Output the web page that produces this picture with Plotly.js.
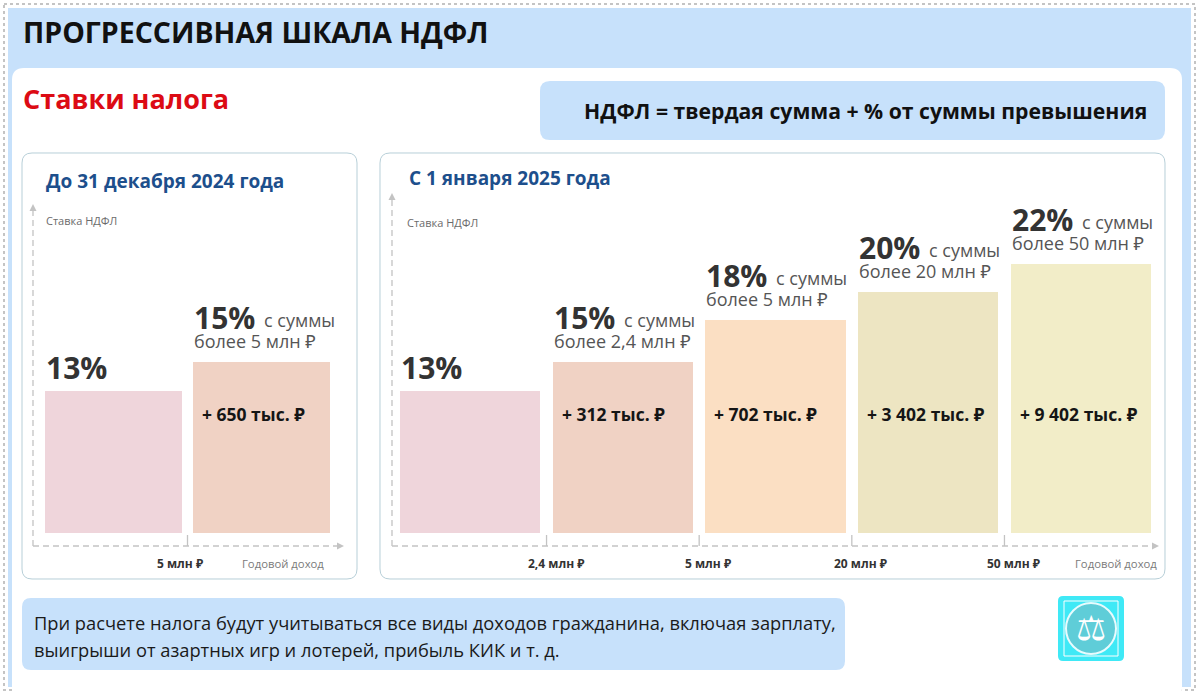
<!DOCTYPE html>
<html>
<head>
<meta charset="utf-8">
<script src="https://cdn.plot.ly/plotly-3.0.1.min.js"></script>
<style>
html,body{margin:0;padding:0;background:#fff;}
#chart{width:1199px;height:694px;}
</style>
</head>
<body>
<div id="chart"></div>
<script>
// ---------- DATA ----------
const pageTitle = 'ПРОГРЕССИВНАЯ ШКАЛА НДФЛ';
const sectionTitle = 'Ставки налога';
const formulaText = 'НДФЛ = твердая сумма + % от суммы превышения';
const leftTitle = 'До 31 декабря 2024 года';
const rightTitle = 'С 1 января 2025 года';
const yAxisLabel = 'Ставка НДФЛ';
const xAxisLabel = 'Годовой доход';

const leftRates = [13, 15];
const leftFixedSum = [null, '650 тыс. ₽'];
const leftOverText = [null, 'более 5 млн ₽'];
const leftThresholds = ['5 млн ₽'];

const rightRates = [13, 15, 18, 20, 22];
const rightFixedSum = [null, '312 тыс. ₽', '702 тыс. ₽', '3 402 тыс. ₽', '9 402 тыс. ₽'];
const rightOverText = [null, 'более 2,4 млн ₽', 'более 5 млн ₽', 'более 20 млн ₽', 'более 50 млн ₽'];
const rightThresholds = ['2,4 млн ₽', '5 млн ₽', '20 млн ₽', '50 млн ₽'];

const footerLines = [
  'При расчете налога будут учитываться все виды доходов гражданина, включая зарплату,',
  'выигрыши от азартных игр и лотерей, прибыль КИК и т. д.'
];

// ---------- STYLE ----------
const W = 1199, H = 694;
const FONT = '"Open Sans", "Noto Sans", "DejaVu Sans", sans-serif';
const leftColors = ['#efd5db', '#f0d2c4'];
const rightColors = ['#efd5db', '#f0d2c4', '#fbdfc3', '#ede5c2', '#f2edc8'];
const BLUE_BG = '#c7e1fb';
const BAR_W = 0.92;
const HALF = BAR_W / 2;
const Y_RANGE = [2.9, 26.16];
const INNER_Y = 11.35;

const X = v => v / W;
const Y = v => 1 - v / H;

function rr(x0, y0, x1, y1, r) {
  const f = v => v.toFixed(5);
  const a = X, b = Y;
  return `M${f(a(x0 + r))},${f(b(y0))} L${f(a(x1 - r))},${f(b(y0))} Q${f(a(x1))},${f(b(y0))} ${f(a(x1))},${f(b(y0 + r))} ` +
    `L${f(a(x1))},${f(b(y1 - r))} Q${f(a(x1))},${f(b(y1))} ${f(a(x1 - r))},${f(b(y1))} ` +
    `L${f(a(x0 + r))},${f(b(y1))} Q${f(a(x0))},${f(b(y1))} ${f(a(x0))},${f(b(y1 - r))} ` +
    `L${f(a(x0))},${f(b(y0 + r))} Q${f(a(x0))},${f(b(y0))} ${f(a(x0 + r))},${f(b(y0))} Z`;
}
function tri(pts) {
  return 'M' + pts.map(p => X(p[0]).toFixed(5) + ',' + Y(p[1]).toFixed(5)).join(' L') + ' Z';
}

const shapes = [];
// outer stamp border
shapes.push({type: 'rect', xref: 'paper', yref: 'paper', x0: X(4), x1: X(1195), y0: Y(4), y1: Y(690),
  line: {color: '#c4c4c4', width: 2, dash: 'dot'}, fillcolor: 'rgba(0,0,0,0)', layer: 'below'});
// blue background
shapes.push({type: 'rect', xref: 'paper', yref: 'paper', x0: X(8), x1: X(1191), y0: Y(8), y1: Y(687),
  line: {width: 0}, fillcolor: BLUE_BG, layer: 'below'});
// white panel
shapes.push({type: 'path', xref: 'paper', yref: 'paper', path: rr(12, 68, 1182, 700, 12),
  line: {width: 0}, fillcolor: '#ffffff', layer: 'below'});
shapes.push({type: 'rect', xref: 'paper', yref: 'paper', x0: X(12), x1: X(1182), y0: Y(684), y1: Y(687),
  line: {width: 0}, fillcolor: '#ffffff', layer: 'below'});
// formula box
shapes.push({type: 'path', xref: 'paper', yref: 'paper', path: rr(540, 81, 1165, 140, 10),
  line: {width: 0}, fillcolor: BLUE_BG, layer: 'below'});
// panels
shapes.push({type: 'path', xref: 'paper', yref: 'paper', path: rr(22, 153, 357, 579, 10),
  line: {width: 1, color: '#b7cfd8'}, fillcolor: '#ffffff', layer: 'below'});
shapes.push({type: 'path', xref: 'paper', yref: 'paper', path: rr(380, 153, 1165, 579, 10),
  line: {width: 1, color: '#b7cfd8'}, fillcolor: '#ffffff', layer: 'below'});
// footer box
shapes.push({type: 'path', xref: 'paper', yref: 'paper', path: rr(22, 598, 845, 670, 9),
  line: {width: 0}, fillcolor: BLUE_BG, layer: 'below'});
// icon
shapes.push({type: 'path', xref: 'paper', yref: 'paper', path: rr(1058, 596, 1124, 661, 5),
  line: {width: 0}, fillcolor: '#3fe9f6', layer: 'below'});
shapes.push({type: 'rect', xref: 'paper', yref: 'paper', x0: X(1064), x1: X(1118), y0: Y(601), y1: Y(656),
  line: {width: 1, color: '#ffffff'}, fillcolor: 'rgba(0,0,0,0)', layer: 'below'});
shapes.push({type: 'circle', xref: 'paper', yref: 'paper', x0: X(1066), x1: X(1116), y0: Y(603), y1: Y(654),
  line: {width: 2, color: '#e8fbfd'}, fillcolor: '#5fcdd8', layer: 'below'});

// dashed axes
const AX = '#c3c3c3';
function addAxes(xv, yTop, xRight) {
  shapes.push({type: 'line', xref: 'paper', yref: 'paper', x0: X(xv), x1: X(xv), y0: Y(546), y1: Y(yTop + 6),
    line: {color: AX, width: 1.3, dash: '6px,4px'}, layer: 'below'});
  shapes.push({type: 'line', xref: 'paper', yref: 'paper', x0: X(xv), x1: X(xRight - 6), y0: Y(546), y1: Y(546),
    line: {color: AX, width: 1.3, dash: '6px,4px'}, layer: 'below'});
  shapes.push({type: 'path', xref: 'paper', yref: 'paper', path: tri([[xv - 3.5, yTop + 7], [xv + 3.5, yTop + 7], [xv, yTop]]),
    line: {width: 0}, fillcolor: AX, layer: 'below'});
  shapes.push({type: 'path', xref: 'paper', yref: 'paper', path: tri([[xRight - 7, 542.5], [xRight - 7, 549.5], [xRight, 546]]),
    line: {width: 0}, fillcolor: AX, layer: 'below'});
}
addAxes(33, 204, 344);
addAxes(392, 193, 1159);

// threshold ticks (between bars, data coordinates on x)
leftThresholds.forEach((t, i) => {
  shapes.push({type: 'line', xref: 'x', yref: 'paper', x0: i + 0.5, x1: i + 0.5, y0: Y(535), y1: Y(546),
    line: {color: AX, width: 1.3}, layer: 'below'});
});
rightThresholds.forEach((t, i) => {
  shapes.push({type: 'line', xref: 'x2', yref: 'paper', x0: i + 0.5, x1: i + 0.5, y0: Y(535), y1: Y(546),
    line: {color: AX, width: 1.3}, layer: 'below'});
});

// ---------- ANNOTATIONS ----------
const ann = [];
function txt(o) { ann.push(Object.assign({showarrow: false, xref: 'paper', yref: 'paper'}, o)); }

txt({x: X(21), y: Y(32), xanchor: 'left', yanchor: 'middle', text: '<b>' + pageTitle + '</b>',
  font: {family: FONT, size: 28.5, color: '#111111'}});
txt({x: X(21), y: Y(98), xanchor: 'left', yanchor: 'middle', text: '<b>' + sectionTitle + '</b>',
  font: {family: FONT, size: 27, color: '#dc0b14'}});
txt({x: X(866), y: Y(110), xanchor: 'center', yanchor: 'middle', text: '<b>' + formulaText + '</b>',
  font: {family: FONT, size: 21.2, color: '#111111'}});
txt({x: X(44), y: Y(181), xanchor: 'left', yanchor: 'middle', text: '<b>' + leftTitle + '</b>',
  font: {family: FONT, size: 19, color: '#1d4f8c'}});
txt({x: X(407), y: Y(178), xanchor: 'left', yanchor: 'middle', text: '<b>' + rightTitle + '</b>',
  font: {family: FONT, size: 19, color: '#1d4f8c'}});
txt({x: X(44), y: Y(221), xanchor: 'left', yanchor: 'middle', text: yAxisLabel,
  font: {family: FONT, size: 11, color: '#6b6b6b'}});
txt({x: X(405), y: Y(222), xanchor: 'left', yanchor: 'middle', text: yAxisLabel,
  font: {family: FONT, size: 11, color: '#6b6b6b'}});
txt({x: X(326), y: Y(563), xanchor: 'right', yanchor: 'middle', text: xAxisLabel,
  font: {family: FONT, size: 11.3, color: '#7a7a7a'}});
txt({x: X(1159), y: Y(563), xanchor: 'right', yanchor: 'middle', text: xAxisLabel,
  font: {family: FONT, size: 11.3, color: '#7a7a7a'}});
footerLines.forEach((l, i) => {
  txt({x: X(32), y: Y(622 + i * 27), xanchor: 'left', yanchor: 'middle', text: l,
    font: {family: FONT, size: 18.3, color: '#1a1a1a'}});
});
txt({x: X(1091), y: Y(628), xanchor: 'center', yanchor: 'middle', text: '⚖',
  font: {family: '"DejaVu Sans", sans-serif', size: 34, color: '#ffffff'}});

// threshold labels
leftThresholds.forEach((t, i) => {
  ann.push({showarrow: false, xref: 'x', yref: 'paper', x: i + 0.5, y: Y(563), xshift: -8,
    xanchor: 'center', yanchor: 'middle', text: '<b>' + t + '</b>', font: {family: FONT, size: 12, color: '#333333'}});
});
rightThresholds.forEach((t, i) => {
  ann.push({showarrow: false, xref: 'x2', yref: 'paper', x: i + 0.5, y: Y(563), xshift: 9,
    xanchor: 'center', yanchor: 'middle', text: '<b>' + t + '</b>', font: {family: FONT, size: 12, color: '#333333'}});
});

function barLabels(rates, fixed, over, xr, yr) {
  rates.forEach((r, i) => {
    const x0 = i - HALF;
    const big = '<b>' + r + '%</b>';
    if (!over[i]) {
      ann.push({showarrow: false, xref: xr, yref: yr, x: x0, y: r, xanchor: 'left', yanchor: 'bottom',
        yshift: 1, xshift: -1, text: big, font: {family: FONT, size: 30, color: '#333333'}});
    } else {
      ann.push({showarrow: false, xref: xr, yref: yr, x: x0, y: r, xanchor: 'left', yanchor: 'bottom',
        yshift: 22, xshift: -1, text: big, font: {family: FONT, size: 30, color: '#333333'}});
      ann.push({showarrow: false, xref: xr, yref: yr, x: x0, y: r, xanchor: 'left', yanchor: 'bottom',
        yshift: 28, xshift: 69, text: 'с суммы', font: {family: FONT, size: 18, color: '#555555'}});
      ann.push({showarrow: false, xref: xr, yref: yr, x: x0, y: r, xanchor: 'left', yanchor: 'bottom',
        yshift: 7, xshift: -1, text: over[i], font: {family: FONT, size: 18, color: '#555555'}});
    }
    if (fixed[i]) {
      ann.push({showarrow: false, xref: xr, yref: yr, x: x0, y: INNER_Y, xanchor: 'left', yanchor: 'middle',
        xshift: 7, text: '<b>+ ' + fixed[i] + '</b>', font: {family: FONT, size: 17.5, color: '#151515'}});
    }
  });
}
barLabels(leftRates, leftFixedSum, leftOverText, 'x', 'y');
barLabels(rightRates, rightFixedSum, rightOverText, 'x2', 'y2');

// ---------- TRACES ----------
const traces = [
  {type: 'bar', x: leftRates.map((_, i) => i), y: leftRates, width: BAR_W, xaxis: 'x', yaxis: 'y',
    marker: {color: leftColors, line: {width: 0}}, hoverinfo: 'skip'},
  {type: 'bar', x: rightRates.map((_, i) => i), y: rightRates, width: BAR_W, xaxis: 'x2', yaxis: 'y2',
    marker: {color: rightColors, line: {width: 0}}, hoverinfo: 'skip'}
];

const yDomain = [Y(533), Y(205)];
const layout = {
  width: W, height: H,
  margin: {l: 0, r: 0, t: 0, b: 0},
  paper_bgcolor: '#ffffff', plot_bgcolor: 'rgba(0,0,0,0)',
  showlegend: false,
  font: {family: FONT},
  xaxis: {domain: [X(45), X(330)], range: [-HALF, 1 + HALF], visible: false, fixedrange: true, anchor: 'y'},
  yaxis: {domain: yDomain, range: Y_RANGE, visible: false, fixedrange: true, anchor: 'x'},
  xaxis2: {domain: [X(400), X(1151)], range: [-HALF, 4 + HALF], visible: false, fixedrange: true, anchor: 'y2'},
  yaxis2: {domain: yDomain, range: Y_RANGE, visible: false, fixedrange: true, anchor: 'x2'},
  shapes: shapes,
  annotations: ann,
  bargap: 0
};

Plotly.newPlot('chart', traces, layout, {staticPlot: true, displayModeBar: false});
</script>
</body>
</html>
